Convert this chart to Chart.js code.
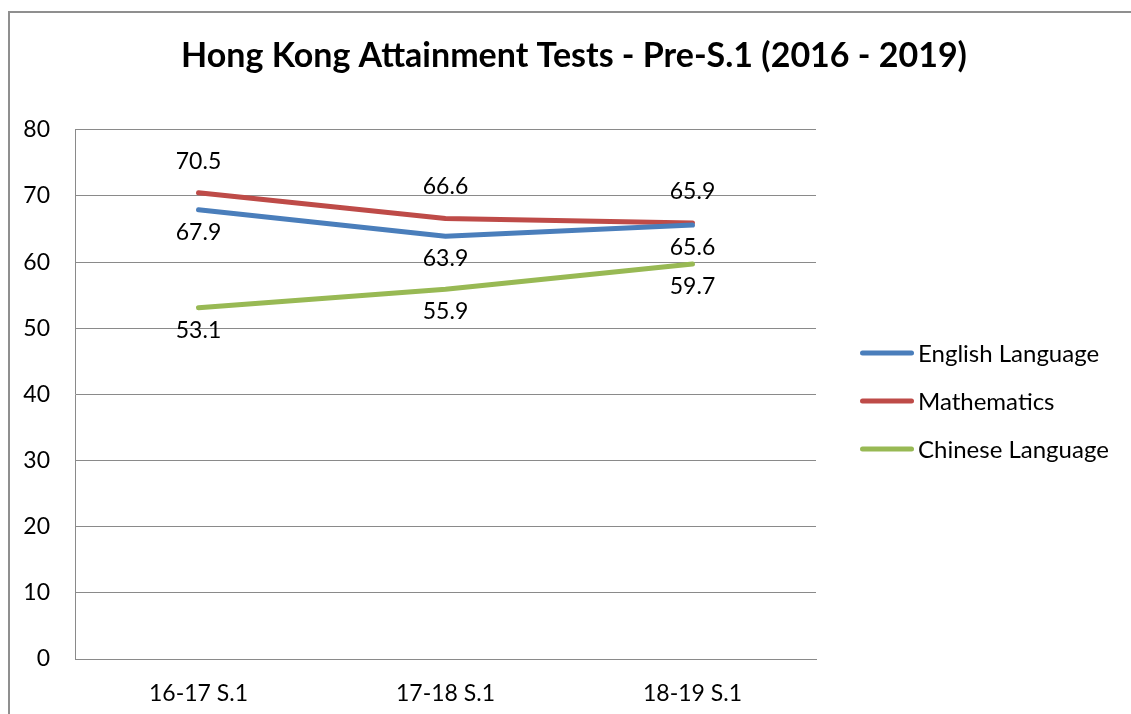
<!DOCTYPE html>
<html><head><meta charset="utf-8">
<script src="https://cdn.jsdelivr.net/npm/chart.js@4.4.1/dist/chart.umd.min.js"></script>
<style>
html,body{margin:0;padding:0;background:#fff;overflow:hidden;}
#wrap{position:relative;width:1131px;height:714px;overflow:hidden;}
#frame{position:absolute;left:8px;top:11px;width:1300px;height:900px;border-left:2px solid #8f8f8f;border-top:2px solid #8f8f8f;box-sizing:border-box;}
canvas{position:absolute;left:0;top:0;}
</style></head><body>
<div id="wrap"><div id="frame"></div><canvas id="c" width="1131" height="714"></canvas></div>
<script>
const categories = ['16-17 S.1', '17-18 S.1', '18-19 S.1'];
const englishLanguage = [67.9, 63.9, 65.6];
const mathematics = [70.5, 66.6, 65.9];
const chineseLanguage = [53.1, 55.9, 59.7];
const seriesNames = ['English Language', 'Mathematics', 'Chinese Language'];
const yTickValues = [0, 10, 20, 30, 40, 50, 60, 70, 80];
const titleText = 'Hong Kong Attainment Tests - Pre-S.1 (2016 - 2019)';

const FONT = 'Lato';
const TXT = 23;
const LEG = 24;

const dataLabelPlugin = {
  id: 'dataLabels',
  afterDatasetsDraw(chart) {
    const ctx = chart.ctx;
    ctx.save();
    ctx.font = TXT + 'px ' + FONT;
    ctx.fillStyle = '#000';
    ctx.textAlign = 'center';
    ctx.textBaseline = 'alphabetic';
    chart.data.datasets.forEach((ds, di) => {
      const meta = chart.getDatasetMeta(di);
      meta.data.forEach((pt, i) => {
        const v = ds.data[i];
        const y = ds.labelPos === 'above' ? pt.y - 24 : pt.y + 30;
        ctx.fillText(v.toFixed(1), pt.x, y);
      });
    });
    ctx.restore();
  }
};

const sideLegendPlugin = {
  id: 'sideLegend',
  afterDraw(chart) {
    const ctx = chart.ctx;
    const a = chart.chartArea;
    const cy = (a.top + a.bottom) / 2 + 6.5;
    ctx.save();
    ctx.font = LEG + 'px ' + FONT;
    ctx.textAlign = 'left';
    ctx.textBaseline = 'middle';
    chart.data.datasets.forEach((ds, i) => {
      const y = cy + (i - 1) * 48;
      const x0 = a.right + 46.5;
      ctx.strokeStyle = ds.borderColor;
      ctx.lineWidth = 5;
      ctx.lineCap = 'round';
      ctx.beginPath();
      ctx.moveTo(x0, y);
      ctx.lineTo(x0 + 49, y);
      ctx.stroke();
      ctx.fillStyle = '#000';
      ctx.fillText(ds.label, a.right + 102, y + 1);
    });
    ctx.restore();
  }
};

const gridColor = '#8a8a8a';

new Chart(document.getElementById('c'), {
  type: 'line',
  data: {
    labels: categories,
    datasets: [
      { label: seriesNames[0], data: englishLanguage, borderColor: '#4A7EBB', backgroundColor: '#4A7EBB', labelPos: 'below' },
      { label: seriesNames[1], data: mathematics, borderColor: '#BE4B48', backgroundColor: '#BE4B48', labelPos: 'above' },
      { label: seriesNames[2], data: chineseLanguage, borderColor: '#98B954', backgroundColor: '#98B954', labelPos: 'below' }
    ]
  },
  options: {
    responsive: false,
    animation: false,
    devicePixelRatio: 1,
    elements: {
      line: { borderWidth: 5, borderCapStyle: 'round', borderJoinStyle: 'round', tension: 0 },
      point: { radius: 0, hoverRadius: 0 }
    },
    layout: { padding: { left: 17, right: 0, top: 0, bottom: 0 } },
    plugins: {
      legend: { display: false },
      tooltip: { enabled: false },
      title: {
        display: true,
        text: titleText,
        color: '#000',
        font: { family: FONT, size: 34, weight: 'bold', lineHeight: 1.2 },
        padding: { top: 36, bottom: 53 }
      }
    },
    scales: {
      x: {
        offset: true,
        grid: { display: false, drawTicks: false },
        border: { display: true, color: gridColor, width: 1 },
        ticks: { color: '#000', font: { family: FONT, size: TXT }, padding: 21, maxRotation: 0 },
        afterFit(s) { s.height = 55; }
      },
      y: {
        min: 0, max: 80,
        afterBuildTicks(s) { s.ticks = yTickValues.map(v => ({ value: v })); },
        grid: { color: gridColor, lineWidth: 1, drawTicks: false },
        border: { display: true, color: gridColor, width: 1 },
        ticks: { color: '#000', font: { family: FONT, size: TXT }, padding: 25 },
        afterFit(s) { s.width = 58; }
      },
      legendSpace: {
        type: 'linear',
        position: 'right',
        min: 0, max: 80,
        grid: { display: false, drawTicks: false },
        border: { display: false },
        ticks: { display: false },
        afterFit(s) { s.width = 315; }
      }
    }
  },
  plugins: [dataLabelPlugin, sideLegendPlugin]
});
</script>
</body></html>
